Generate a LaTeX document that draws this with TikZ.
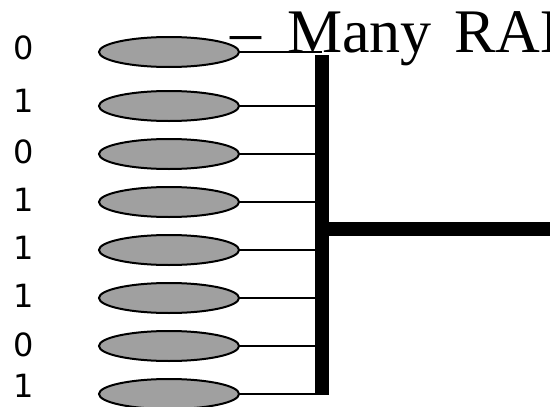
\documentclass[tikz,border=0pt]{standalone}
\usepackage{fontspec}
\setmainfont{Liberation Serif}
\newfontfamily\digitfont{DejaVu Sans}
\usetikzlibrary{shapes.geometric}
\definecolor{diskgray}{RGB}{160,160,160}
\begin{document}
\begin{tikzpicture}[x=1pt,y=-1pt,
  disk/.style={ellipse, draw=black, line width=2pt, fill=diskgray, minimum width=140pt, minimum height=30pt, inner sep=0pt},
  bit/.style={font=\digitfont\fontsize{32}{32}\selectfont, inner sep=0pt},
  wire/.style={line width=1.8pt},
  busbar/.style={line width=14pt},
  title/.style={font=\fontsize{62}{62}\selectfont, inner sep=0pt, anchor=base west}]
\useasboundingbox (0,0) rectangle (550,407);
\clip (0,0) rectangle (550,407);
% disks
\foreach \i/\y in {1/52,2/106,3/154,4/202,5/250,6/298,7/346,8/394}{
  \node[disk] (e\i) at (169,\y) {};
}
% bit labels
\foreach \i/\y/\b in {1/48/0,2/100.5/1,3/152/0,4/200/1,5/248/1,6/296/1,7/345/0,8/385.5/1}{
  \node[bit] (l\i) at (24,\y) {\b};
}
% bus
\coordinate (bt) at (321.5,55);
\coordinate (bb) at (321.5,395);
\coordinate (bj) at (321.5,229);
\coordinate (bo) at (560,229);
\foreach \i in {1,...,8}{
  \draw[wire] (e\i.east) -- (e\i.east -| bt);
}
\draw[busbar] (bt) -- (bb);
\draw[busbar] (bj) -- (bo);
% title
\node[title] (dash) at (230,52) {–};
\node[title] (ttl) at (287,52) {Many\hspace{7pt} RAM};
\end{tikzpicture}
\end{document}
